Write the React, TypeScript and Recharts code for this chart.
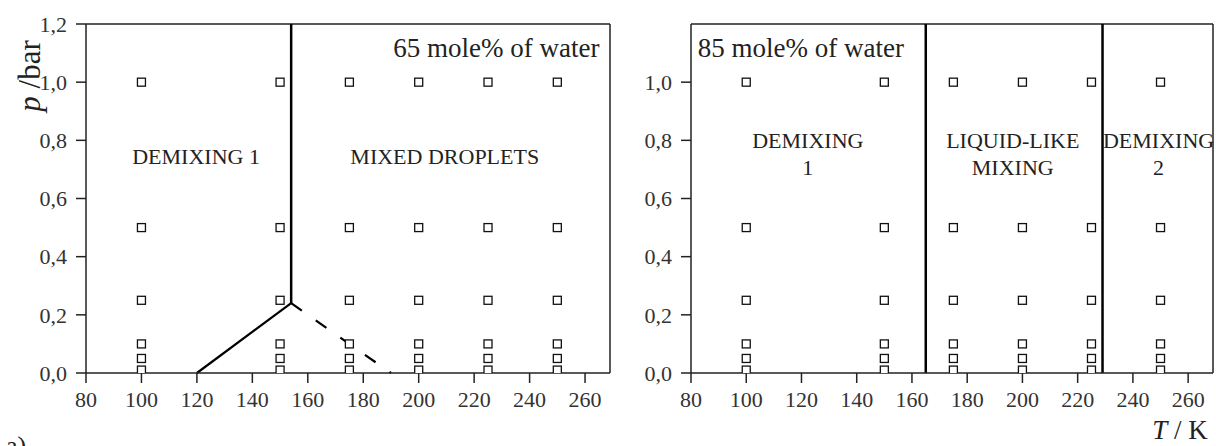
import React from 'react';
import { ScatterChart, Scatter, XAxis, YAxis, ReferenceLine, ReferenceDot } from 'recharts';

// ---- data ----
const temperatures = [100, 150, 175, 200, 225, 250];
const pressures = [0.01, 0.05, 0.1, 0.25, 0.5, 1.0];
const xTicks = [80, 100, 120, 140, 160, 180, 200, 220, 240, 260];
const yTicksLeft = [0, 0.2, 0.4, 0.6, 0.8, 1.0, 1.2];
const yTicksRight = [0, 0.2, 0.4, 0.6, 0.8, 1.0];
const xDomain: [number, number] = [80, 269];
const yDomain: [number, number] = [0, 1.2];

// left panel (65 mole% water) boundaries
const leftVertical = [{ x: 154, y: 0.24 }, { x: 154, y: 1.2 }];
const leftSolidDiag = [{ x: 120, y: 0 }, { x: 154, y: 0.24 }];
const leftDashedDiag = [{ x: 154, y: 0.24 }, { x: 190, y: 0 }];
const leftLabels = [
  { x: 119.7, y: 0.717, lines: ['DEMIXING 1'] },
  { x: 209.4, y: 0.717, lines: ['MIXED DROPLETS'] },
];
const leftTitle = { x: 228, y: 1.088, text: '65 mole% of water' };

// right panel (85 mole% water) boundaries
const rightVerticals = [165, 229];
const rightLabels = [
  { x: 122.3, y: 0.774, lines: ['DEMIXING', '1'] },
  { x: 196.5, y: 0.774, lines: ['LIQUID-LIKE', 'MIXING'] },
  { x: 249.3, y: 0.774, lines: ['DEMIXING', '2'] },
];
const rightTitle = { x: 119.8, y: 1.088, text: '85 mole% of water' };

const points = temperatures.flatMap((t) => pressures.map((p) => ({ t, p })));

const SERIF = '"Liberation Serif", "Times New Roman", serif';
const AXIS = '#222';
const fmt = (v: number) => v.toFixed(1).replace('.', ',');

const Square = (props: any) => {
  const { cx, cy } = props;
  if (cx == null || cy == null) return null;
  return <rect x={cx - 4} y={cy - 4} width={8} height={8} fill="#fff" stroke="#111" strokeWidth={1.3} />;
};

// text whose first line's baseline sits at the anchor point
const textShape = (lines: string[], size: number, lh: number) => (props: any) => {
  const { cx, cy } = props;
  return (
    <text x={cx} y={cy} textAnchor="middle" fontFamily={SERIF} fontSize={size} fill="#222">
      {lines.map((l, i) => (
        <tspan key={i} x={cx} y={cy + i * lh}>{l}</tspan>
      ))}
    </text>
  );
};

const tickStyle = { fill: '#333', fontSize: 22, fontFamily: SERIF };

function Panel(props: {
  width: number;
  marginRight: number;
  yAxisWidth: number;
  yTicks: number[];
  children?: React.ReactNode;
  yLabel?: boolean;
  xLabel?: boolean;
}) {
  const { width, marginRight, yAxisWidth, yTicks, yLabel, xLabel } = props;
  return (
    <ScatterChart width={width} height={446} margin={{ top: 24, right: marginRight, bottom: 43, left: 0 }}>
      <XAxis
        type="number"
        dataKey="t"
        domain={xDomain}
        ticks={xTicks}
        allowDataOverflow
        height={30}
        tickSize={10}
        tickMargin={8}
        tick={tickStyle}
        axisLine={{ stroke: AXIS, strokeWidth: 1.5 }}
        tickLine={{ stroke: AXIS, strokeWidth: 1.5 }}
        interval={0}
        label={
          xLabel
            ? {
                content: () => (
                  <text x={574} y={439} textAnchor="middle" fontFamily={SERIF} fontSize={27} fill="#222">
                    <tspan fontStyle="italic">T</tspan>
                    <tspan> / K</tspan>
                  </text>
                ),
              }
            : undefined
        }
      />
      <YAxis
        type="number"
        dataKey="p"
        domain={yDomain}
        ticks={yTicks}
        allowDataOverflow
        width={yAxisWidth}
        tickSize={10}
        tickMargin={9}
        tick={tickStyle}
        tickFormatter={fmt}
        axisLine={{ stroke: AXIS, strokeWidth: 1.5 }}
        tickLine={{ stroke: AXIS, strokeWidth: 1.5 }}
        interval={0}
        label={
          yLabel
            ? {
                content: () => (
                  <text
                    x={40}
                    y={76}
                    transform="rotate(-90, 40, 76)"
                    textAnchor="middle"
                    fontFamily={SERIF}
                    fontSize={31}
                    fill="#222"
                  >
                    <tspan fontStyle="italic">p</tspan>
                    <tspan> /bar</tspan>
                  </text>
                ),
              }
            : undefined
        }
      />
      <ReferenceLine y={1.2} stroke={AXIS} strokeWidth={1.5} />
      <ReferenceLine x={269} stroke={AXIS} strokeWidth={1.5} />
      {props.children}
      <Scatter data={points} shape={Square} isAnimationActive={false} />
    </ScatterChart>
  );
}

export default function App() {
  return (
    <div style={{ position: 'absolute', left: 0, top: 0, width: 1216, height: 446, overflow: 'hidden', background: '#fff' }}>
      <div style={{ position: 'absolute', left: 0, top: 0 }}>
        <Panel width={620} marginRight={10} yAxisWidth={86} yTicks={yTicksLeft} yLabel>
          <ReferenceLine segment={leftVertical} stroke="#000" strokeWidth={2.5} />
          <ReferenceLine segment={leftSolidDiag} stroke="#000" strokeWidth={2.2} />
          <ReferenceLine segment={leftDashedDiag} stroke="#000" strokeWidth={2.2} strokeDasharray="13 17" />
          {leftLabels.map((l, i) => (
            <ReferenceDot key={i} x={l.x} y={l.y} r={0} shape={textShape(l.lines, 22, 27)} />
          ))}
          <ReferenceDot x={leftTitle.x} y={leftTitle.y} r={0} shape={textShape([leftTitle.text], 27, 30)} />
        </Panel>
      </div>
      <div style={{ position: 'absolute', left: 606, top: 0 }}>
        <Panel width={610} marginRight={3} yAxisWidth={85} yTicks={yTicksRight} xLabel>
          {rightVerticals.map((x) => (
            <ReferenceLine key={x} segment={[{ x, y: 0 }, { x, y: 1.2 }]} stroke="#000" strokeWidth={2.5} />
          ))}
          {rightLabels.map((l, i) => (
            <ReferenceDot key={i} x={l.x} y={l.y} r={0} shape={textShape(l.lines, 22, 27)} />
          ))}
          <ReferenceDot x={rightTitle.x} y={rightTitle.y} r={0} shape={textShape([rightTitle.text], 27, 30)} />
        </Panel>
      </div>
      <div style={{ position: 'absolute', left: 6, top: 433, fontFamily: SERIF, fontSize: 26, lineHeight: '26px', color: '#222' }}>
        a)
      </div>
    </div>
  );
}
